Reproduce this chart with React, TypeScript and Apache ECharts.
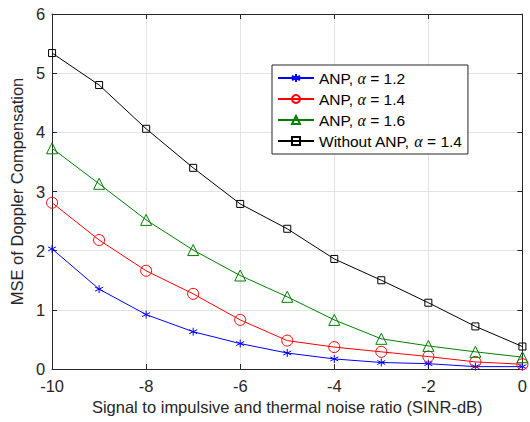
import React, { useEffect, useRef } from "react";
import * as echarts from "echarts";

const snr = [-10, -9, -8, -7, -6, -5, -4, -3, -2, -1, 0];
const anp12 = [2.03, 1.35, 0.92, 0.63, 0.43, 0.27, 0.17, 0.11, 0.09, 0.04, 0.04];
const anp14 = [2.81, 2.18, 1.66, 1.27, 0.83, 0.48, 0.37, 0.29, 0.21, 0.12, 0.08];
const anp16 = [3.73, 3.13, 2.52, 2.01, 1.58, 1.22, 0.83, 0.51, 0.39, 0.29, 0.2];
const noAnp14 = [5.34, 4.8, 4.06, 3.4, 2.79, 2.37, 1.86, 1.5, 1.12, 0.72, 0.38];
const seriesNames = ["ANP, α = 1.2", "ANP, α = 1.4", "ANP, α = 1.6", "Without ANP, α = 1.4"];

const asterisk = "path://M0,-10L0,10M-8.66,-5L8.66,5M-8.66,5L8.66,-5";

export default function App() {
  const ref = useRef<HTMLDivElement>(null);
  useEffect(() => {
    if (!ref.current) return;
    const chart = echarts.init(ref.current, null, { renderer: "svg" });
    const font = "'Liberation Sans', Arial, Helvetica, sans-serif";
    const axisColor = "#262626";
    const mk = (vals: number[]) => snr.map((x, i) => [x, vals[i]]);
    const baseLine = (name: string, data: number[], color: string, symbol: string, size: number) => ({
      name,
      type: "line",
      data: mk(data),
      symbol,
      symbolSize: size,
      showSymbol: true,
      lineStyle: { color, width: 1 },
      itemStyle: { color: "rgba(0,0,0,0)", borderColor: color, borderWidth: 1 },
      emphasis: { disabled: true },
      z: 3,
    });
    chart.setOption({
      animation: false,
      backgroundColor: "#ffffff",
      textStyle: { fontFamily: font },
      grid: { left: 45, top: 14, right: 1, bottom: 53, containLabel: false },
      legend: {
        orient: "vertical",
        left: 272,
        top: 65,
        backgroundColor: "#ffffff",
        borderColor: "#262626",
        borderWidth: 1,
        borderRadius: 0,
        padding: [5, 6, 5, 5],
        itemWidth: 36,
        itemHeight: 10,
        itemGap: 5,
        textStyle: {
          fontFamily: font,
          fontSize: 15.5,
          color: "#000",
          rich: { a: { fontFamily: "'Liberation Serif', 'Times New Roman', serif", fontStyle: "italic", fontSize: 16 } },
        },
        formatter: (n: string) => n.replace("α", "{a|α}"),
        data: seriesNames,
      },
      xAxis: [
        {
          type: "value",
          min: -10,
          max: 0,
          interval: 2,
          name: "Signal to impulsive and thermal noise ratio (SINR-dB)",
          nameLocation: "middle",
          nameGap: 28,
          nameTextStyle: { fontSize: 16.5, color: "#262626", fontFamily: font },
          axisLine: { show: true, onZero: false, lineStyle: { color: axisColor, width: 1 } },
          axisTick: { show: true, inside: true, length: 5, lineStyle: { color: axisColor } },
          axisLabel: { fontSize: 16.5, color: "#262626", margin: 8, fontFamily: font },
          splitLine: { show: true, lineStyle: { color: "#e3e3e3", width: 1 } },
        },
        {
          type: "value",
          position: "top",
          min: -10,
          max: 0,
          interval: 2,
          axisLine: { show: true, onZero: false, lineStyle: { color: axisColor, width: 1 } },
          axisTick: { show: true, inside: true, length: 5, lineStyle: { color: axisColor } },
          axisLabel: { show: false },
          splitLine: { show: false },
        },
      ],
      yAxis: [
        {
          type: "value",
          min: 0,
          max: 6,
          interval: 1,
          name: "MSE of Doppler Compensation",
          nameLocation: "middle",
          nameGap: 20,
          nameTextStyle: { fontSize: 16.5, color: "#262626", fontFamily: font },
          axisLine: { show: true, onZero: false, lineStyle: { color: axisColor, width: 1 } },
          axisTick: { show: true, inside: true, length: 5, lineStyle: { color: axisColor } },
          axisLabel: { fontSize: 16.5, color: "#262626", margin: 7, fontFamily: font },
          splitLine: { show: true, lineStyle: { color: "#e3e3e3", width: 1 } },
        },
        {
          type: "value",
          position: "right",
          min: 0,
          max: 6,
          interval: 1,
          axisLine: { show: true, onZero: false, lineStyle: { color: axisColor, width: 1 } },
          axisTick: { show: true, inside: true, length: 5, lineStyle: { color: axisColor } },
          axisLabel: { show: false },
          splitLine: { show: false },
        },
      ],
      series: [
        baseLine(seriesNames[0], anp12, "#0000ff", asterisk, 8),
        baseLine(seriesNames[1], anp14, "#ff0000", "circle", 11),
        baseLine(seriesNames[2], anp16, "#008000", "triangle", 11),
        baseLine(seriesNames[3], noAnp14, "#000000", "rect", 7),
      ],
    });
    return () => chart.dispose();
  }, []);
  return (
    <div
      ref={ref}
      style={{ position: "fixed", left: 0, top: 0, width: 530, height: 422 }}
    />
  );
}
